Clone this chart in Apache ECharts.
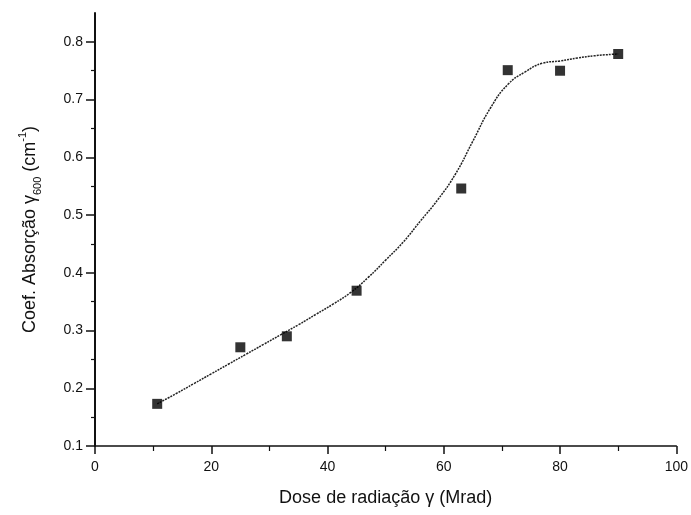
<!DOCTYPE html>
<html>
<head>
<meta charset="utf-8">
<script src="https://cdn.jsdelivr.net/npm/echarts@6/dist/echarts.min.js"></script>
<style>
  html, body { margin: 0; padding: 0; background: #fff; }
  #chart { width: 691px; height: 515px; }
</style>
</head>
<body>
<div id="chart"></div>
<script>
// dados medidos
const doseX = [10.7, 25, 33, 45, 63, 71, 80, 90];
const coefY = [0.173, 0.271, 0.29, 0.369, 0.546, 0.751, 0.75, 0.779];

// curva ajustada
const curveX = [10.7, 14, 17, 20, 23, 26, 29, 32, 35, 38, 41, 44, 47, 50, 53, 56, 59, 62, 65, 68, 71, 74, 77, 80, 83, 86, 90];
const curveY = [0.173, 0.191, 0.208, 0.225, 0.242, 0.259, 0.276, 0.293, 0.31, 0.328, 0.346, 0.366, 0.392, 0.422, 0.453, 0.490, 0.527, 0.571, 0.628, 0.685, 0.726, 0.748, 0.763, 0.767, 0.772, 0.776, 0.779];

const xTicks = [0, 20, 40, 60, 80, 100];
const yTicks = [0.1, 0.2, 0.3, 0.4, 0.5, 0.6, 0.7, 0.8];

const font = 'Liberation Sans';

let chart = echarts.init(document.getElementById('chart'));

const option = {
  animation: false,
  grid: {
    left: 95,
    right: 13,
    top: 13,
    bottom: 69
  },
  xAxis: {
    type: 'value',
    min: 0,
    max: 100,
    interval: 20,
    name: 'Dose de radiação γ (Mrad)',
    nameLocation: 'middle',
    nameGap: 43,
    nameTextStyle: { fontFamily: font, fontSize: 18, color: '#111' },
    axisLine: { lineStyle: { color: '#111', width: 1.5 } },
    axisTick: { inside: false, length: 8, lineStyle: { color: '#111', width: 1.5 } },
    minorTick: { show: true, splitNumber: 2, length: 5, lineStyle: { color: '#111', width: 1.2 } },
    splitLine: { show: false },
    axisLabel: {
      fontFamily: font, fontSize: 14, color: '#111', margin: 14,
      formatter: v => xTicks.includes(v) ? String(v) : ''
    }
  },
  yAxis: {
    type: 'value',
    min: 0.1,
    max: 0.85,
    interval: 0.1,
    name: '{a|Coef. Absorção γ}{s|600}{a| (cm}{p|-1}{a|)}',
    nameLocation: 'middle',
    nameRotate: 90,
    nameGap: 52,
    nameTextStyle: {
      rich: {
        a: { fontFamily: font, fontSize: 18, color: '#111', lineHeight: 26 },
        s: { fontFamily: font, fontSize: 11, color: '#111', verticalAlign: 'bottom', lineHeight: 26 },
        p: { fontFamily: font, fontSize: 11, color: '#111', verticalAlign: 'top', lineHeight: 26 }
      }
    },
    axisLine: { lineStyle: { color: '#111', width: 2 } },
    axisTick: { length: 9, lineStyle: { color: '#111', width: 1.5 }, customValues: yTicks },
    minorTick: { show: true, splitNumber: 2, length: 4, lineStyle: { color: '#111', width: 1.2 } },
    splitLine: { show: false },
    axisLabel: {
      fontFamily: font, fontSize: 14, color: '#111', margin: 12,
      customValues: yTicks,
      formatter: v => v.toFixed(1)
    }
  },
  series: [
    {
      name: 'ajuste',
      type: 'line',
      smooth: 0.5,
      showSymbol: false,
      data: curveX.map((x, i) => [x, curveY[i]]),
      lineStyle: { color: '#222', width: 1.5, type: [2, 1] },
      z: 2
    },
    {
      name: 'medidas',
      type: 'scatter',
      symbol: 'rect',
      symbolSize: 10,
      data: doseX.map((x, i) => [x, coefY[i]]),
      itemStyle: { color: '#000' },
      z: 3
    }
  ]
};

chart.setOption(option);
window.addEventListener('resize', () => {
  chart.resize();
});
</script>
</body>
</html>
